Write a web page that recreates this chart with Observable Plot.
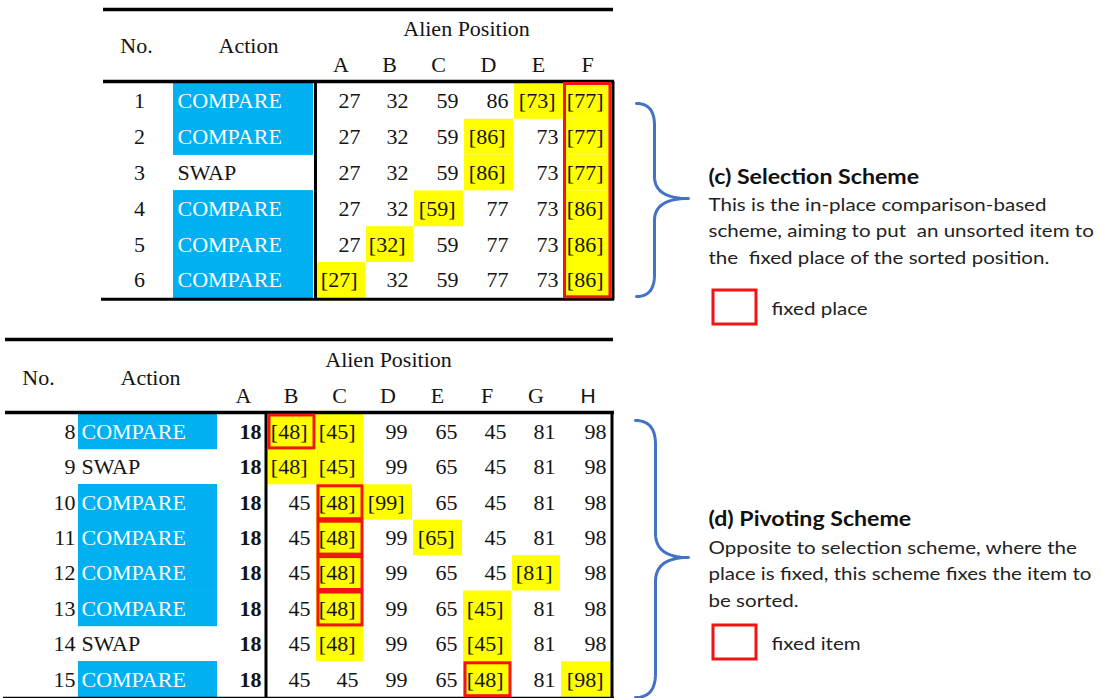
<!DOCTYPE html>
<html><head><meta charset="utf-8">
<script src="https://cdn.jsdelivr.net/npm/d3@7"></script>
<script src="https://cdn.jsdelivr.net/npm/@observablehq/plot@0.6"></script>
<style>
html,body{margin:0;padding:0;background:#fff;}
svg text{white-space:pre;}
</style></head><body><div id="chart"></div>
<script>
// ---------- DATA ----------
const topColumns = ["A","B","C","D","E","F"];
const topSteps = [1,2,3,4,5,6];
const topActions = ["COMPARE","COMPARE","SWAP","COMPARE","COMPARE","COMPARE"];
const topValues = [
  [27,32,59,86,73,77],
  [27,32,59,86,73,77],
  [27,32,59,86,73,77],
  [27,32,59,77,73,86],
  [27,32,59,77,73,86],
  [27,32,59,77,73,86]
];
const topHighlighted = [["E","F"],["D","F"],["D","F"],["C","F"],["B","F"],["A","F"]];
const topFixedColumn = "F";

const bottomColumns = ["A","B","C","D","E","F","G","H"];
const bottomSteps = [8,9,10,11,12,13,14,15];
const bottomActions = ["COMPARE","SWAP","COMPARE","COMPARE","COMPARE","COMPARE","SWAP","COMPARE"];
const bottomValues = [
  [18,48,45,99,65,45,81,98],
  [18,48,45,99,65,45,81,98],
  [18,45,48,99,65,45,81,98],
  [18,45,48,99,65,45,81,98],
  [18,45,48,99,65,45,81,98],
  [18,45,48,99,65,45,81,98],
  [18,45,48,99,65,45,81,98],
  [18,45,45,99,65,48,81,98]
];
const bottomHighlighted = [["B","C"],["B","C"],["C","D"],["C","E"],["C","G"],["C","F"],["C","F"],["F","H"]];
const bottomFixed = ["B",null,"C","C","C","C",null,"F"];

const headerLabels = ["No.","Action","Alien Position"];
const schemeTitles = ["(c) Selection Scheme","(d) Pivoting Scheme"];
const schemeLines = [
  ["This is the in-place comparison-based","scheme, aiming to put  an unsorted item to","the  fixed place of the sorted position."],
  ["Opposite to selection scheme, where the","place is fixed, this scheme fixes the item to","be sorted."]
];
const legendLabels = ["fixed place","fixed item"];

// ---------- LAYOUT ----------
const BLUE = "#00B0F0", YELLOW = "#FFFF00", RED = "#F21313", INK = "#141414", BRACE = "#4472C4";
const SERIF = "Liberation Serif, Times New Roman, serif";
const SANS = "Lato, Noto Sans, sans-serif";
const FS = 22;

const T = {
  cols: topColumns, steps: topSteps, actions: topActions, values: topValues, hi: topHighlighted,
  fixed: topSteps.map(() => topFixedColumn), fixedSpan: true,
  x0: 103, x1: 613, ruleTop: 9, ruleHead: 81, rowTop: 83, rowH: 35.8,
  noX: 139, noAnchor: "middle", actX1: 173, actX2: 313, actTextX: 177,
  divider: 315, right: 612.5,
  edges: [316,365,413,463,513,563,611],
  alienX: 466, alienY: 35, headY: 52, noHeadX: 136, actHeadX: 248, letterY: 71,
  boldFirst: false
};
const B = {
  cols: bottomColumns, steps: bottomSteps, actions: bottomActions, values: bottomValues, hi: bottomHighlighted,
  fixed: bottomFixed, fixedSpan: false,
  x0: 5, x1: 613, ruleTop: 339, ruleHead: 412, rowTop: 413.5, rowH: 35.4,
  noX: 75, noAnchor: "end", actX1: 78, actX2: 217, actTextX: 81,
  divider: 265.5, right: 611.5,
  edges: [220,266,315,363,412,462,511,560,611],
  alienX: 388, alienY: 366, headY: 384, noHeadX: 38, actHeadX: 150, letterY: 402,
  boldFirst: true
};

function tableMarks(t) {
  const nRows = t.steps.length;
  const yTop = i => t.rowTop + i * t.rowH;
  const yBot = i => t.rowTop + (i + 1) * t.rowH;
  const tableBottom = yBot(nRows - 1);
  const cells = t.values.flatMap((row, i) => row.map((v, j) => {
    const col = t.cols[j];
    const hi = t.hi[i].includes(col);
    return {i, j, col, v, hi, label: hi ? `[${v}]` : `${v}`, bold: t.boldFirst && j === 0};
  }));
  const actionRows = t.actions.map((a, i) => ({a, i}));
  const blueRows = actionRows.filter(d => d.a === "COMPARE");
  const marks = [];
  marks.push(Plot.rect(cells.filter(d => d.hi), {
    x1: d => t.edges[d.j] + 1, x2: d => t.edges[d.j + 1], y1: d => yTop(d.i), y2: d => yBot(d.i), fill: YELLOW
  }));
  marks.push(Plot.rect(blueRows, {
    x1: t.actX1, x2: t.actX2, y1: d => yTop(d.i) - 0.3, y2: d => yBot(d.i) + 0.3, fill: BLUE
  }));
  marks.push(Plot.ruleY([t.ruleTop], {x1: t.x0, x2: t.x1, stroke: "#000", strokeWidth: 3.5}));
  marks.push(Plot.ruleY([t.ruleHead], {x1: t.x0, x2: t.x1 + 1, stroke: "#000", strokeWidth: 3.5}));
  marks.push(Plot.ruleY([tableBottom + 1], {x1: t.x0 - 2, x2: t.x1 + 1, stroke: "#000", strokeWidth: 3}));
  marks.push(Plot.ruleX([t.divider], {y1: t.ruleHead, y2: tableBottom + 1, stroke: "#000", strokeWidth: 3}));
  marks.push(Plot.ruleX([t.right], {y1: t.ruleHead, y2: tableBottom + 2, stroke: "#000", strokeWidth: 3}));
  if (t.fixedSpan) {
    const j = t.cols.indexOf(t.fixed[0]);
    marks.push(Plot.rect([j], {
      x1: d => t.edges[d] + 1.5, x2: d => t.edges[d + 1] - 1, y1: t.rowTop + 0.5, y2: tableBottom - 1,
      fill: "none", stroke: RED, strokeWidth: 3
    }));
  } else {
    const boxes = t.fixed.map((c, i) => ({c, i})).filter(d => d.c);
    marks.push(Plot.rect(boxes, {
      x1: d => t.edges[t.cols.indexOf(d.c)] + 3, x2: d => t.edges[t.cols.indexOf(d.c) + 1] - 1,
      y1: d => yTop(d.i) + 1.5, y2: d => yBot(d.i) - 1,
      fill: "none", stroke: RED, strokeWidth: 3
    }));
  }
  const common = {fontFamily: SERIF, fontSize: FS, fill: INK, lineAnchor: "bottom"};
  marks.push(Plot.text([headerLabels[2]], {...common, x: t.alienX, y: t.alienY, text: d => d}));
  marks.push(Plot.text([headerLabels[0]], {...common, x: t.noHeadX, y: t.headY, text: d => d}));
  marks.push(Plot.text([headerLabels[1]], {...common, x: t.actHeadX, y: t.headY, text: d => d}));
  const letters = t.cols.map((c, j) => ({c, x: (t.edges[j] + t.edges[j + 1]) / 2}));
  marks.push(Plot.text(letters.filter(d => d.c !== "H"), {...common, x: "x", y: t.letterY, text: "c"}));
  marks.push(Plot.text(letters.filter(d => d.c === "H"), {...common, fontFamily: "Liberation Sans, Arial, sans-serif", fontSize: 21, x: d => d.x + 2, y: t.letterY, text: "c"}));
  marks.push(Plot.text(t.steps, {
    ...common, x: t.noX, y: (d, i) => yTop(i) + t.rowH / 2 + 7, text: d => `${d}`, textAnchor: t.noAnchor
  }));
  marks.push(Plot.text(actionRows.filter(d => d.a === "COMPARE"), {
    ...common, fill: "#fff", x: t.actTextX, y: d => yTop(d.i) + t.rowH / 2 + 7, text: "a", textAnchor: "start"
  }));
  marks.push(Plot.text(actionRows.filter(d => d.a !== "COMPARE"), {
    ...common, x: t.actTextX, y: d => yTop(d.i) + t.rowH / 2 + 7, text: "a", textAnchor: "start"
  }));
  const valueOpts = {...common, x: d => t.edges[d.j + 1] - (d.hi ? 8 : 5), y: d => yTop(d.i) + t.rowH / 2 + 7, text: "label", textAnchor: "end"};
  marks.push(Plot.text(cells.filter(d => !d.bold), valueOpts));
  marks.push(Plot.text(cells.filter(d => d.bold), {...valueOpts, fontWeight: "bold"}));
  return marks;
}

function bracePoints(id, xEnd, xStem, xTip, yTop, yTip, yBot, r) {
  const pts = [];
  const quad = (p0, p1, p2, n = 16) => {
    for (let k = 0; k <= n; k++) {
      const s = k / n, a = (1 - s) * (1 - s), b = 2 * (1 - s) * s, c = s * s;
      pts.push({id, x: a * p0[0] + b * p1[0] + c * p2[0], y: a * p0[1] + b * p1[1] + c * p2[1]});
    }
  };
  quad([xEnd, yTop], [xStem, yTop], [xStem, yTop + r]);
  quad([xStem, yTip - r], [xStem, yTip], [xTip, yTip]);
  quad([xTip, yTip], [xStem, yTip], [xStem, yTip + r]);
  quad([xStem, yBot - r], [xStem, yBot], [xEnd, yBot]);
  return pts;
}
const braces = [
  ...bracePoints("c", 636, 654, 688, 103, 198, 296, 22),
  ...bracePoints("d", 635, 655, 688, 420, 557, 697, 24)
];

const notes = [
  {title: schemeTitles[0], lines: schemeLines[0], legend: legendLabels[0], titleY: 183, lineY0: 210, boxY: 290},
  {title: schemeTitles[1], lines: schemeLines[1], legend: legendLabels[1], titleY: 525, lineY0: 553, boxY: 625}
];
const noteLines = notes.flatMap(n => n.lines.map((l, k) => ({l, y: n.lineY0 + k * 26.7})));
const STRETCH = 1.13;
const NOTE_X = 708, LEGEND_X = 771;

const chart = Plot.plot({
  width: 1102, height: 698, margin: 0,
  x: {type: "linear", domain: [0, 1102], range: [0, 1102], axis: null},
  y: {type: "linear", domain: [0, 698], range: [0, 698], axis: null},
  marks: [
    ...tableMarks(T),
    ...tableMarks(B),
    Plot.line(braces, {x: "x", y: "y", z: "id", stroke: BRACE, strokeWidth: 3, curve: "linear"}),
    Plot.text(notes, {x: NOTE_X, y: "titleY", text: "title", textAnchor: "start", fontFamily: SANS, fontWeight: "bold", fontSize: 20.5, fill: "#111", lineAnchor: "bottom"}),
    Plot.text(noteLines, {x: NOTE_X, y: "y", text: "l", textAnchor: "start", fontFamily: SANS, fontSize: 18.2, fill: "#222", lineAnchor: "bottom"}),
    Plot.rect(notes, {x1: 713, x2: 756, y1: d => d.boxY, y2: d => d.boxY + 34, fill: "none", stroke: RED, strokeWidth: 3}),
    Plot.text(notes, {x: LEGEND_X, y: d => d.boxY + 24, text: "legend", textAnchor: "start", fontFamily: SANS, fontSize: 18.2, fill: "#222", lineAnchor: "bottom"})
  ]
});
// the reference's sans-serif notes are set slightly wide: stretch them horizontally about their left edge
const noteSet = new Set([...schemeTitles, ...schemeLines.flat()]);
const legendSet = new Set(legendLabels);
chart.querySelectorAll("text").forEach(el => {
  const s = el.textContent;
  const ax = noteSet.has(s) ? NOTE_X : legendSet.has(s) ? LEGEND_X : null;
  if (ax === null) return;
  const prev = el.getAttribute("transform") || "";
  el.setAttribute("transform", `translate(${ax},0) scale(${STRETCH},1) translate(${-ax},0) ${prev}`);
});
document.getElementById("chart").appendChild(chart);
</script></body></html>
